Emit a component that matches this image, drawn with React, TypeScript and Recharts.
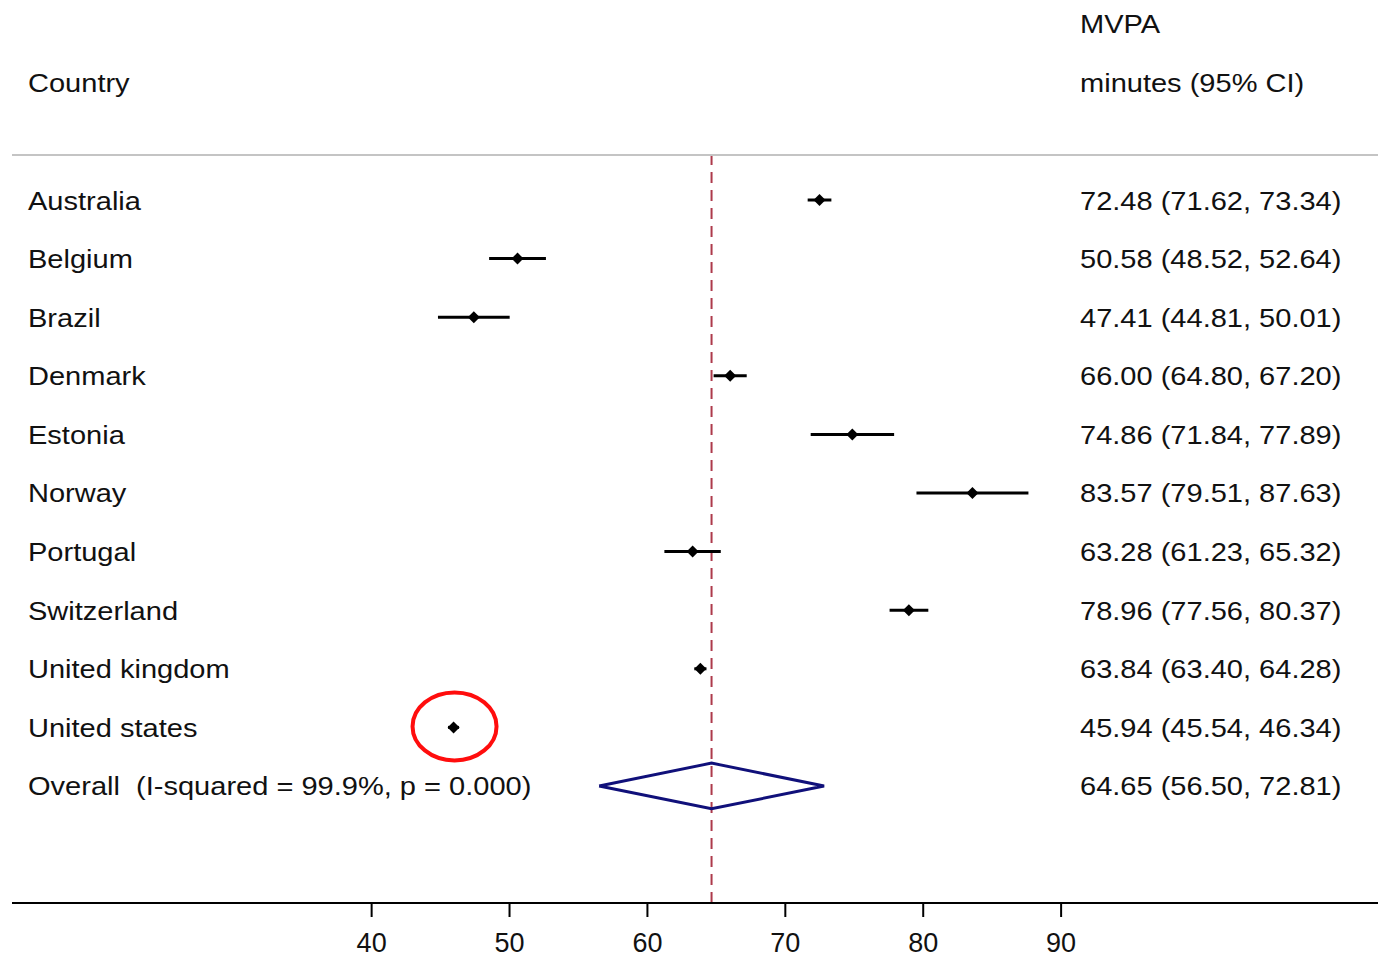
import React from 'react'
import {
  ScatterChart,
  Scatter,
  XAxis,
  YAxis,
  ErrorBar,
  ReferenceLine,
} from 'recharts'

const countries = [
  'Australia',
  'Belgium',
  'Brazil',
  'Denmark',
  'Estonia',
  'Norway',
  'Portugal',
  'Switzerland',
  'United kingdom',
  'United states',
]
const estimates = [72.48, 50.58, 47.41, 66.0, 74.86, 83.57, 63.28, 78.96, 63.84, 45.94]
const lower = [71.62, 48.52, 44.81, 64.8, 71.84, 79.51, 61.23, 77.56, 63.4, 45.54]
const upper = [73.34, 52.64, 50.01, 67.2, 77.89, 87.63, 65.32, 80.37, 64.28, 46.34]

const overallLabel = 'Overall  (I-squared = 99.9%, p = 0.000)'
const overallEst = 64.65
const overallLo = 56.5
const overallHi = 72.81

const highlighted = 'United states'
const xTicks = [40, 50, 60, 70, 80, 90]

// layout
const W = 1378
const H = 954
const X_DOMAIN: [number, number] = [13.92, 112.98]
const Y_DOMAIN: [number, number] = [-0.768, 11.997]
const DIAMOND_HALF = 0.39
const FONT = '"Liberation Sans", Arial, sans-serif'
const SX = 1.117

const rows = countries.map((name, i) => ({
  row: i,
  est: estimates[i],
  err: [estimates[i] - lower[i], upper[i] - estimates[i]],
  name,
}))
const overallRow = countries.length

const diamondPts = [
  { est: overallLo, row: overallRow },
  { est: overallEst, row: overallRow - DIAMOND_HALF },
  { est: overallHi, row: overallRow },
  { est: overallEst, row: overallRow + DIAMOND_HALF },
  { est: overallLo, row: overallRow },
]
const highlightPts = rows.filter(r => r.name === highlighted)

const fmt = (v: number) => v.toFixed(2)
const labelRows = [
  ...countries.map((name, i) => ({
    row: i,
    est: X_DOMAIN[0],
    label: name,
    ci: `${fmt(estimates[i])} (${fmt(lower[i])}, ${fmt(upper[i])})`,
  })),
  {
    row: overallRow,
    est: X_DOMAIN[0],
    label: overallLabel,
    ci: `${fmt(overallEst)} (${fmt(overallLo)}, ${fmt(overallHi)})`,
  },
]

function Txt({ x, y, children, size = 26 }: { x: number; y: number; children: React.ReactNode; size?: number }) {
  return (
    <text
      transform={`translate(${x}, ${y}) scale(${SX}, 1)`}
      fontFamily={FONT}
      fontSize={size}
      fill="#111"
      style={{ whiteSpace: 'pre' }}
    >
      {children}
    </text>
  )
}

// row texts: country on the left, estimate + CI in the right column
function RowText(props: any) {
  const { cy, payload } = props
  if (cy == null || !payload) return <g />
  return (
    <g>
      <Txt x={28} y={cy + 9.5}>{payload.label}</Txt>
      <Txt x={1080} y={cy + 9.5}>{payload.ci}</Txt>
    </g>
  )
}

function Marker(props: any) {
  const { cx, cy } = props
  if (cx == null || cy == null) return <g />
  return (
    <polygon
      points={`${cx - 6},${cy} ${cx},${cy - 6} ${cx + 6},${cy} ${cx},${cy + 6}`}
      fill="#000"
    />
  )
}

function Ring(props: any) {
  const { cx, cy } = props
  if (cx == null || cy == null) return <g />
  return <ellipse cx={cx + 1} cy={cy - 1} rx={42} ry={34} fill="none" stroke="#ff0d0d" strokeWidth={4} />
}

export default function App() {
  return (
    <div style={{ position: 'absolute', left: 0, top: 0, width: W, height: H, background: '#fff' }}>
      <ScatterChart width={W} height={H} margin={{ top: 155, right: 0, bottom: 0, left: 12 }}>
        <XAxis
          type="number"
          dataKey="est"
          domain={X_DOMAIN}
          allowDataOverflow
          ticks={xTicks}
          height={51}
          tickSize={14}
          tickMargin={16}
          axisLine={{ stroke: '#000', strokeWidth: 2 }}
          tickLine={{ stroke: '#000', strokeWidth: 2 }}
          tick={{ fontSize: 27, fontFamily: FONT, fill: '#111' }}
        />
        <YAxis type="number" dataKey="row" domain={Y_DOMAIN} allowDataOverflow reversed hide />
        <ReferenceLine
          x={overallEst}
          stroke="#ad3a4b"
          strokeWidth={2}
          strokeDasharray="11 7"
        />
        <ReferenceLine y={Y_DOMAIN[0]} stroke="#c4c4c4" strokeWidth={2} />
        <Scatter data={labelRows} shape={<RowText />} isAnimationActive={false} />
        <Scatter data={rows} shape={<Marker />} isAnimationActive={false}>
          <ErrorBar dataKey="err" direction="x" width={0} stroke="#000" strokeWidth={3} isAnimationActive={false} />
        </Scatter>
        <Scatter
          data={diamondPts}
          line={{ stroke: '#10107a', strokeWidth: 3 }}
          lineType="joint"
          shape={() => <g />}
          isAnimationActive={false}
        />
        <Scatter data={highlightPts} shape={<Ring />} isAnimationActive={false} />
      </ScatterChart>
      <svg width={W} height={150} style={{ position: 'absolute', left: 0, top: 0, pointerEvents: 'none' }}>
        <Txt x={28} y={92}>Country</Txt>
        <Txt x={1080} y={33}>MVPA</Txt>
        <Txt x={1080} y={92}>minutes (95% CI)</Txt>
      </svg>
    </div>
  )
}
